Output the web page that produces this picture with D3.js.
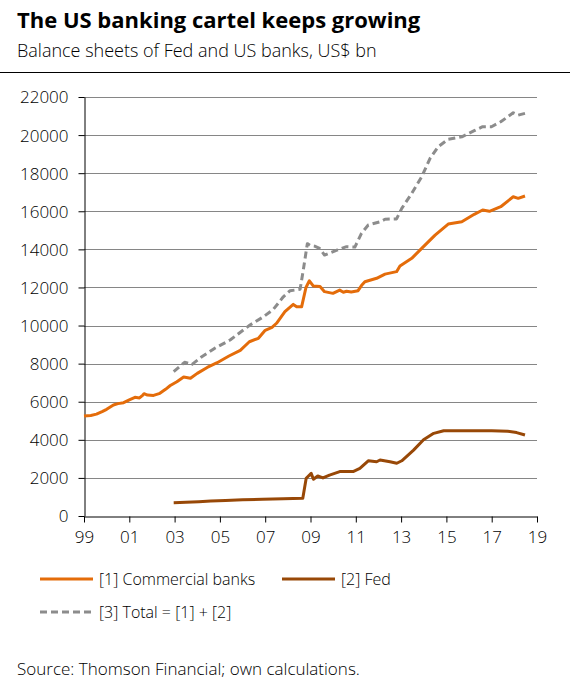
<!DOCTYPE html>
<html>
<head>
<meta charset="utf-8">
<script src="https://cdn.jsdelivr.net/npm/d3@7"></script>
<style>
    body { margin: 0; background: #fff; }
    svg { display: block; font-family: 'Open Sans', 'Noto Sans', sans-serif; }
</style>
</head>
<body>
<div id="chart"></div>
<script>
// Commercial banks [1]
const bankDates = [1999.0, 1999.3, 1999.55, 1999.8, 2000.0, 2000.3, 2000.5, 2000.75, 2001.0, 2001.25,
    2001.45, 2001.6, 2001.65, 2001.8, 2002.07, 2002.35, 2002.6, 2002.81, 2003.1, 2003.4,
    2003.7, 2004.0, 2004.44, 2004.88, 2005.4, 2005.9, 2006.3, 2006.7, 2007.0, 2007.3,
    2007.5, 2007.87, 2008.24, 2008.39, 2008.61, 2008.8, 2008.95, 2009.12, 2009.42, 2009.62,
    2009.99, 2010.29, 2010.45, 2010.59, 2010.8, 2011.1, 2011.25, 2011.4, 2011.92, 2012.29,
    2012.8, 2012.95, 2013.47, 2013.91, 2014.5, 2015.08, 2015.68, 2016.23, 2016.6, 2016.9,
    2017.4, 2017.95, 2018.17, 2018.47];
const bankValues = [5250, 5280, 5350, 5480, 5600, 5830, 5900, 5950, 6100, 6230,
    6200, 6350, 6420, 6350, 6330, 6440, 6650, 6850, 7050, 7300,
    7230, 7490, 7800, 8050, 8400, 8700, 9150, 9330, 9750, 9900,
    10120, 10730, 11110, 10990, 10990, 12000, 12350, 12080, 12050, 11780,
    11690, 11860, 11750, 11800, 11760, 11830, 12100, 12300, 12480, 12700,
    12830, 13130, 13530, 14050, 14750, 15330, 15450, 15840, 16065, 16000,
    16240, 16760, 16680, 16800];

// Fed [2]
const fedDates = [2002.96, 2003.5, 2004.07, 2004.6, 2005.25, 2006.0, 2006.88, 2007.8, 2008.66, 2008.81,
    2009.03, 2009.13, 2009.32, 2009.55, 2009.84, 2010.29, 2010.88, 2011.18, 2011.55, 2011.92,
    2012.07, 2012.51, 2012.81, 2013.03, 2013.55, 2013.99, 2014.44, 2014.88, 2015.18, 2016.0,
    2017.0, 2017.7, 2018.1, 2018.47];
const fedValues = [700, 720, 750, 790, 820, 850, 875, 900, 930, 1980,
    2240, 1930, 2100, 2000, 2150, 2330, 2330, 2500, 2900, 2850,
    2940, 2850, 2770, 2900, 3460, 4000, 4340, 4480, 4480, 4480,
    4470, 4450, 4380, 4250];

// Total [3] = [1] + [2]
const totalDates = [2002.96, 2003.44, 2003.77, 2004.2, 2004.76, 2005.45, 2006.33, 2006.92, 2007.36, 2007.8,
    2008.1, 2008.54, 2008.68, 2008.86, 2009.0, 2009.18, 2009.4, 2009.62,
    2010.14, 2010.59, 2010.96, 2011.25, 2011.55, 2012.07, 2012.29, 2012.8, 2013.03, 2013.47,
    2013.91, 2014.28, 2014.64, 2015.08, 2015.68, 2016.23, 2016.6, 2016.99, 2017.4, 2017.95,
    2018.17, 2018.47];
const totalValues = [7580, 8070, 7960, 8360, 8800, 9240, 10030, 10460, 10850, 11510,
    11830, 11900, 12900, 14300, 14200, 14170, 14050, 13700,
    13950, 14140, 14120, 14840, 15280, 15450, 15580, 15600, 16150, 16940,
    17810, 18780, 19390, 19780, 19910, 20230, 20440, 20440, 20700, 21170,
    21050, 21140];

const xTickYears = [1999, 2001, 2003, 2005, 2007, 2009, 2011, 2013, 2015, 2017, 2019];
const xTickLabels = ['99', '01', '03', '05', '07', '09', '11', '13', '15', '17', '19'];
const yTicks = d3.range(0, 22001, 2000);

const series = [
    { label: '[1] Commercial banks', dates: bankDates, values: bankValues, color: '#e46c0a', dash: null },
    { label: '[2] Fed', dates: fedDates, values: fedValues, color: '#984807', dash: null },
    { label: '[3] Total = [1] + [2]', dates: totalDates, values: totalValues, color: '#8c8c8c', dash: '7,4' }
];

class BankChart {
    constructor(containerId) {
        this.containerId = containerId;
        this.width = 572;
        this.height = 695;
        this.plot = { left: 84, right: 537, top: 97, bottom: 516 };
    }

    draw() {
        const svg = d3.select(`#${this.containerId}`)
            .append('svg')
            .attr('width', this.width)
            .attr('height', this.height);

        // タイトル
        svg.append('text')
            .attr('x', 17).attr('y', 28)
            .attr('fill', '#000')
            .style('font-size', '22px')
            .style('font-weight', 'bold')
            .text('The US banking cartel keeps growing');

        svg.append('text')
            .attr('x', 17).attr('y', 57)
            .attr('fill', '#000')
            .style('font-size', '18px')
            .style('font-weight', 300)
            .text('Balance sheets of Fed and US banks, US$ bn');

        svg.append('line')
            .attr('x1', 0).attr('x2', 570)
            .attr('y1', 72.5).attr('y2', 72.5)
            .attr('stroke', '#000')
            .attr('stroke-width', 1);

        const p = this.plot;
        const xScale = d3.scaleLinear().domain([1999, 2019]).range([p.left, p.right]);
        const yScale = d3.scaleLinear().domain([0, 22000]).range([p.bottom, p.top]);

        // グリッド
        svg.append('g')
            .selectAll('line')
            .data(yTicks.filter(d => d > 0))
            .join('line')
            .attr('x1', p.left).attr('x2', p.right)
            .attr('y1', d => Math.round(yScale(d)) + 0.5)
            .attr('y2', d => Math.round(yScale(d)) + 0.5)
            .attr('stroke', '#868686')
            .attr('stroke-width', 1);

        // 軸
        const yAxis = d3.axisLeft(yScale)
            .tickValues(yTicks)
            .tickSize(6)
            .tickPadding(10)
            .tickSizeOuter(0)
            .tickFormat(d3.format('d'));
        const yg = svg.append('g')
            .attr('transform', `translate(${p.left + 0.5},0)`)
            .call(yAxis);

        const xAxis = d3.axisBottom(xScale)
            .tickValues(xTickYears)
            .tickSize(6)
            .tickPadding(8)
            .tickSizeOuter(0)
            .tickFormat((d, i) => xTickLabels[i]);
        const xg = svg.append('g')
            .attr('transform', `translate(0,${p.bottom + 0.5})`)
            .call(xAxis);

        [yg, xg].forEach(g => {
            g.selectAll('path, line').attr('stroke', '#000');
            g.selectAll('text')
                .attr('fill', '#000')
                .style('font-size', '17px')
                .style('font-weight', 300)
                .style('font-family', "'Open Sans', 'Noto Sans', sans-serif");
        });
        yg.selectAll('text').attr('dy', '0.35em');

        // ライン
        const line = d3.line()
            .x(d => xScale(d[0]))
            .y(d => yScale(d[1]));

        // draw total first, then banks, then Fed on top
        [series[2], series[0], series[1]].forEach(s => {
            svg.append('path')
                .datum(d3.zip(s.dates, s.values))
                .attr('d', line)
                .attr('fill', 'none')
                .attr('stroke', s.color)
                .attr('stroke-width', 3)
                .attr('stroke-linejoin', 'round')
                .attr('stroke-dasharray', s.dash);
        });

        // 凡例
        const legendPos = [
            { x: 40, y: 579 },
            { x: 282, y: 579 },
            { x: 40, y: 612 }
        ];
        series.forEach((s, i) => {
            const g = svg.append('g')
                .attr('transform', `translate(${legendPos[i].x},${legendPos[i].y})`);
            g.append('line')
                .attr('x1', 0).attr('x2', 53)
                .attr('y1', 0).attr('y2', 0)
                .attr('stroke', s.color)
                .attr('stroke-width', 3)
                .attr('stroke-dasharray', s.dash);
            g.append('text')
                .attr('x', 59).attr('y', 6)
                .attr('fill', '#000')
                .style('font-size', '16px')
                .style('font-weight', 300)
                .text(s.label);
        });

        svg.append('text')
            .attr('x', 17).attr('y', 675)
            .attr('fill', '#000')
            .style('font-size', '17px')
            .style('font-weight', 300)
            .text('Source: Thomson Financial; own calculations.');
    }
}

const chart = new BankChart('chart');
chart.draw();
</script>
</body>
</html>
